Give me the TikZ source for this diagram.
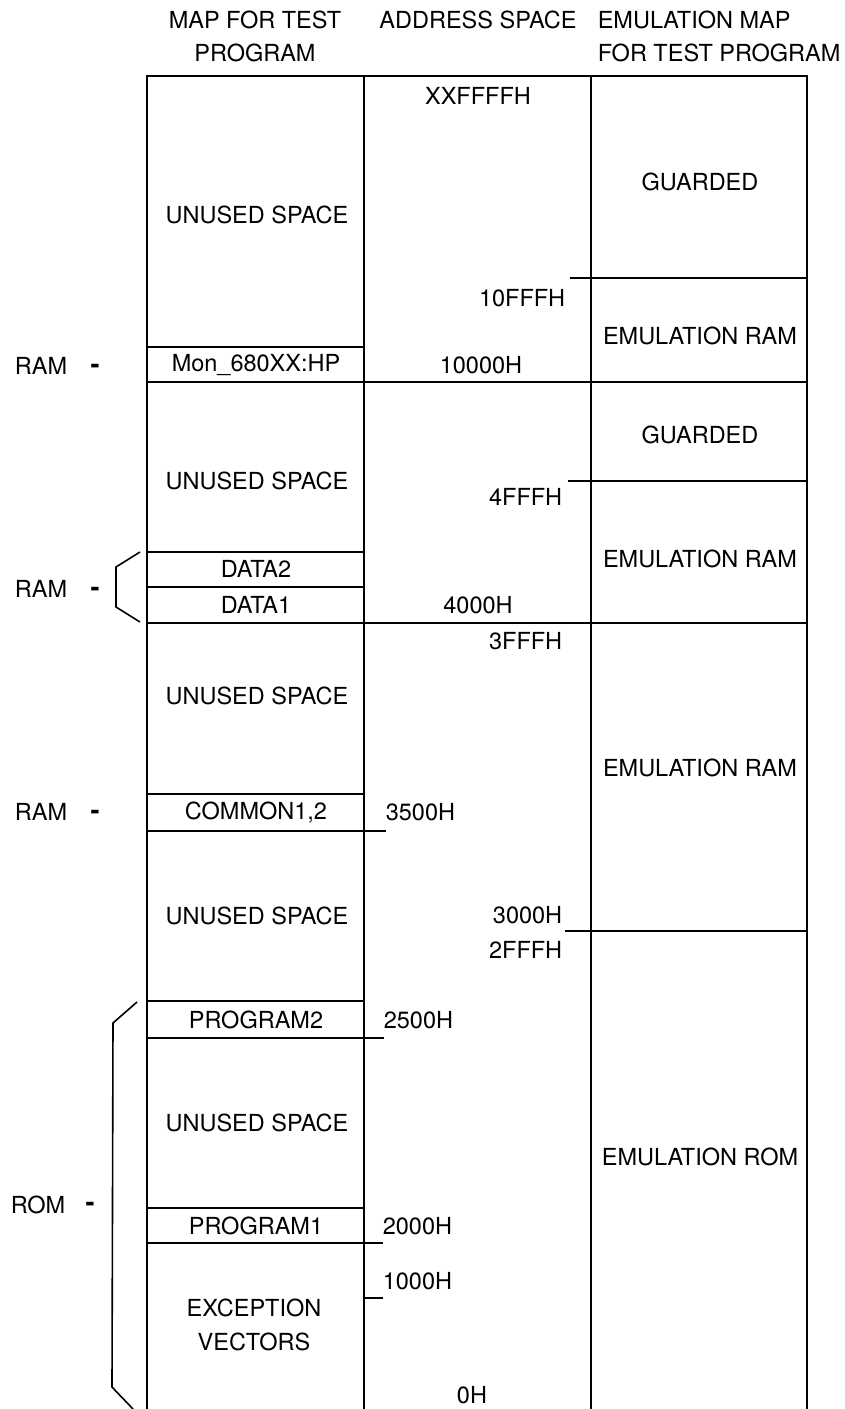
\documentclass[tikz,border=0pt]{standalone}
\usepackage{fontspec}
\setmainfont{TeX Gyre Heros}
\begin{document}
\begin{tikzpicture}[x=1pt,y=-1pt,line width=1.6pt,
  lbl/.style={font=\fontsize{23.5}{27}\selectfont, inner sep=0pt},
  addr/.style={lbl, anchor=east},
  addrl/.style={lbl, anchor=west},
  dashmark/.style={font=\bfseries\fontsize{27}{28}\selectfont, inner sep=0pt}]
\useasboundingbox (0,0) rectangle (845,1409);
% column frame
\draw (147,1409) -- (147,76) -- (807,76) -- (807,1409);
\draw (364,76) -- (364,1409);
\draw (591,76) -- (591,1409);
% full-width lines
\draw (147,382) -- (807,382);
\draw (147,623) -- (807,623);
% right column dividers with ticks
\draw (570,278) -- (807,278);
\draw (568,481) -- (807,481);
\draw (565,931) -- (807,931);
% left column rows
\draw (147,347) -- (364,347);
\draw (147,552) -- (364,552);
\draw (147,587) -- (364,587);
\draw (147,794) -- (364,794);
\draw (147,831) -- (386,831);
\draw (147,1001) -- (364,1001);
\draw (147,1038) -- (384,1038);
\draw (147,1208) -- (364,1208);
\draw (147,1243) -- (383,1243);
\draw (364,1298) -- (383,1298);
% brackets
\draw (140,552) -- (116,567) -- (116,607) -- (140,622);
\draw (137,1002) -- (113,1023) -- (112,1387) -- (133,1409);
% headers
\node[lbl] (h1a) at (255,20) {MAP FOR TEST};
\node[lbl] (h1b) at (255,53) {PROGRAM};
\node[lbl] (h2) at (478,20) {ADDRESS SPACE};
\node[lbl,anchor=west] (h3a) at (597,20) {EMULATION MAP};
\node[lbl,anchor=west] (h3b) at (597,53) {FOR TEST PROGRAM};
% left column texts
\node[lbl] (u1) at (257,215) {UNUSED SPACE};
\node[lbl] (mon) at (256,365) {Mon\_680XX:HP};
\node[lbl] (u2) at (257,481) {UNUSED SPACE};
\node[lbl] (d2) at (256,569) {DATA2};
\node[lbl] (d1) at (256,605) {DATA1};
\node[lbl] (u3) at (257,696) {UNUSED SPACE};
\node[lbl] (com) at (256,812) {COMMON1,2};
\node[lbl] (u4) at (257,916) {UNUSED SPACE};
\node[lbl] (p2) at (256,1020) {PROGRAM2};
\node[lbl] (u5) at (257,1123) {UNUSED SPACE};
\node[lbl] (p1) at (256,1226) {PROGRAM1};
\node[lbl] (ex) at (254,1308) {EXCEPTION};
\node[lbl] (vec) at (254,1342) {VECTORS};
% address texts
\node[lbl] (a1) at (478,96) {XXFFFFH};
\node[addr] (a2) at (566,298) {10FFFH};
\node[lbl] (a3) at (481,365) {10000H};
\node[addr] (a4) at (563,497) {4FFFH};
\node[lbl] (a5) at (478,605) {4000H};
\node[addr] (a6) at (563,641) {3FFFH};
\node[addrl] (a7) at (385,812) {3500H};
\node[addr] (a8) at (563,915) {3000H};
\node[addr] (a9) at (563,950) {2FFFH};
\node[addrl] (a10) at (383,1020) {2500H};
\node[addrl] (a11) at (382,1226) {2000H};
\node[addrl] (a12) at (382,1281) {1000H};
\node[lbl] (a13) at (472,1395) {0H};
% emulation column
\node[lbl] (e1) at (700,182) {GUARDED};
\node[lbl] (e2) at (700,336) {EMULATION RAM};
\node[lbl] (e3) at (700,435) {GUARDED};
\node[lbl] (e4) at (700,559) {EMULATION RAM};
\node[lbl] (e5) at (700,768) {EMULATION RAM};
\node[lbl] (e6) at (700,1157) {EMULATION ROM};
% left side labels
\node[lbl] (r1) at (41,366) {RAM};
\node[dashmark] (r1d) at (95,369) {-};
\node[lbl] (r2) at (41,589) {RAM};
\node[dashmark] (r2d) at (95,592) {-};
\node[lbl] (r3) at (41,812) {RAM};
\node[dashmark] (r3d) at (95,815) {-};
\node[lbl] (r4) at (38,1205) {ROM};
\node[dashmark] (r4d) at (90,1207) {-};
\end{tikzpicture}
\end{document}
